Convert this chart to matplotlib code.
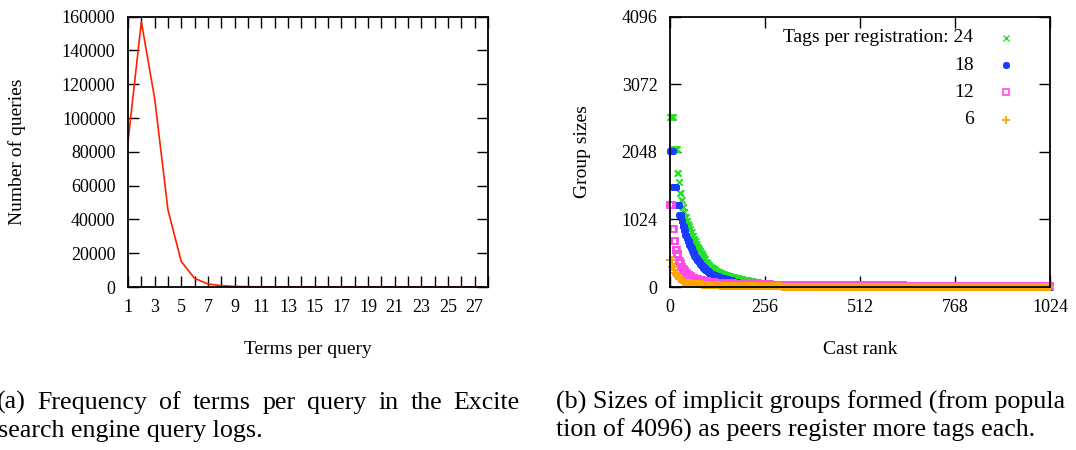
import numpy as np
import matplotlib
matplotlib.use("Agg")
import matplotlib.pyplot as plt

plt.rcParams["font.family"] = ["Liberation Serif", "DejaVu Serif"]

W, H = 1076, 450

# (a) Excite query log: number of queries per query length
terms = list(range(1, 29))
queries = [86000, 157000, 111500, 45500, 15000, 5100, 1800, 800, 350, 170,
           90, 50, 30, 20, 12, 8, 5, 4, 3, 2, 2, 1, 1, 1, 1, 0, 0, 0]

# (b) sorted group sizes, stored as (size, how many consecutive ranks)
size_24 = [2580, 2086, 1722, 1586, 1419, 1318, 1207, 1130, 1065,
           1000, 960, 924, 880, 830, 773, 730, 690, 650, 611, 575, 540, 510,
           480, 450, 420, 384, 360, 335, 308, 290, 270, 250, 232, 215, 200,
           182, 167, 150, 135, 120, 106, 92, 80, 65, 52, 40, 30, 20,
           12, 8, 5, 3, 2]
count_24 = [10, 10, 3, 3, 4, 3, 4, 3, 4,
            3, 3, 3, 3, 3, 4, 4, 3, 3, 4, 3, 3, 3,
            3, 3, 3, 4, 4, 4, 5, 5, 5, 5, 6, 6, 7,
            8, 10, 10, 10, 12, 14, 14, 14, 16, 18, 20, 24, 30,
            60, 100, 150, 200, 169]

size_18 = [2065, 1520, 1242, 1091, 1000, 924, 860, 788, 740, 690, 636,
           590, 550, 510, 475, 440, 410, 384, 350, 315, 283, 260, 240, 215,
           197, 180, 165, 148, 131, 115, 100, 81, 68, 56, 45, 35, 25, 16,
           10, 6, 4, 2, 1]
count_18 = [8, 10, 7, 6, 3, 4, 3, 4, 3, 4, 4,
            4, 3, 3, 3, 4, 4, 4, 4, 5, 5, 5, 5, 5,
            6, 6, 7, 8, 10, 10, 12, 14, 16, 20, 22, 25, 30, 40,
            70, 120, 160, 200, 139]

size_12 = [1242, 874, 697, 560, 495, 400, 360, 308, 270, 240, 207, 180,
           160, 131, 115, 100, 91, 78, 68, 55, 45, 38, 32, 28, 24, 20, 16]
count_12 = [7, 4, 4, 4, 4, 4, 3, 4, 4, 4, 5, 5,
            6, 8, 10, 12, 14, 18, 20, 30, 40, 60, 80, 120, 160, 200, 195]

size_6 = [409, 298, 217, 180, 150, 125, 100, 80, 65, 55, 45, 38, 30, 24,
          18, 14, 10, 7, 5, 3, 2, 1]
count_6 = [6, 6, 5, 4, 4, 4, 5, 6, 8, 10, 12, 16, 20, 30,
           40, 50, 75, 100, 150, 200, 150, 124]

tags_labels = ["Tags per registration: 24", "18", "12", "6"]

fig = plt.figure(figsize=(W / 100, H / 100), dpi=100)


def box(x0, y0, x1, y1):
    return [x0 / W, 1 - y1 / H, (x1 - x0) / W, (y1 - y0) / H]


def gp_axes(ax):
    for s in ax.spines.values():
        s.set_linewidth(1.3)
    ax.tick_params(which="both", direction="in", top=True, right=True,
                   length=8, width=1.0, labelsize=13, pad=9)


# ---- (a) ----
ax1 = fig.add_axes(box(128, 16.7, 488, 287))
ax1.plot(terms, queries, color="#ff2000", lw=1.2)
ax1.set_xlim(1, 28)
ax1.set_ylim(0, 160000)
ax1.set_xticks(range(1, 28, 2))
ax1.set_xticks(range(2, 29, 2), minor=True)
ax1.set_yticks(range(0, 160001, 20000))
gp_axes(ax1)
ax1.set_xlabel("Terms per query", fontsize=14, labelpad=18)
ax1.set_ylabel("Number of queries", fontsize=14, labelpad=26)

# ---- (b) ----
ax2 = fig.add_axes(box(670, 16.7, 1050, 287))
series = [
    (size_24, count_24, dict(marker="x", color="#22e022", ms=4.5, mew=1.0)),
    (size_18, count_18, dict(marker=(8, 2, 0), color="#1a3cff", ms=5.0, mew=1.3)),
    (size_12, count_12, dict(marker="s", color="#ff4ce8", ms=4.2, mew=1.2, mfc="none")),
    (size_6, count_6, dict(marker="+", color="#ffa500", ms=5.5, mew=1.3)),
]
for sizes, counts, style in series:
    vals = np.repeat(sizes, counts)
    rank = np.arange(len(vals))
    ax2.plot(rank, vals, ls="none", clip_on=False, **style)

ax2.set_xlim(0, 1024)
ax2.set_ylim(0, 4096)
ax2.set_xticks([0, 256, 512, 768, 1024])
ax2.set_yticks([0, 1024, 2048, 3072, 4096])
gp_axes(ax2)
ax2.set_xlabel("Cast rank", fontsize=14, labelpad=18)
ax2.set_ylabel("Group sizes", fontsize=14, labelpad=22)

# right-aligned key, as gnuplot draws it
key_y = [0.923, 0.821, 0.720, 0.619]
for (sizes, counts, style), lab, ky in zip(series, tags_labels, key_y):
    ax2.text(0.799, ky, lab, transform=ax2.transAxes, ha="right",
             va="center", fontsize=14)
    ax2.plot([0.883], [ky], transform=ax2.transAxes, ls="none",
             clip_on=False, **style)

# ---- captions ----
cap = dict(fontsize=18.7, va="baseline")


def justify(words, x0, x1, ybase):
    texts = [fig.text(0, 1 - ybase / H, w, **cap) for w in words]
    fig.canvas.draw()
    r = fig.canvas.get_renderer()
    widths = [t.get_window_extent(r).width for t in texts]
    gap = (x1 - x0 - sum(widths)) / (len(words) - 1)
    x = x0
    for t, w in zip(texts, widths):
        t.set_x(x / W)
        x += w + gap


justify("(a) Frequency of terms per query in the Excite".split(), -3, 520, 409)
fig.text(-2 / W, 1 - 437 / H, "search engine query logs.", **cap)
fig.text(556 / W, 1 - 409 / H, "(b) Sizes of implicit groups formed (from popula", **cap)
fig.text(556 / W, 1 - 437 / H, "tion of 4096) as peers register more tags each.", **cap)

fig.savefig("out.png", dpi=100)
